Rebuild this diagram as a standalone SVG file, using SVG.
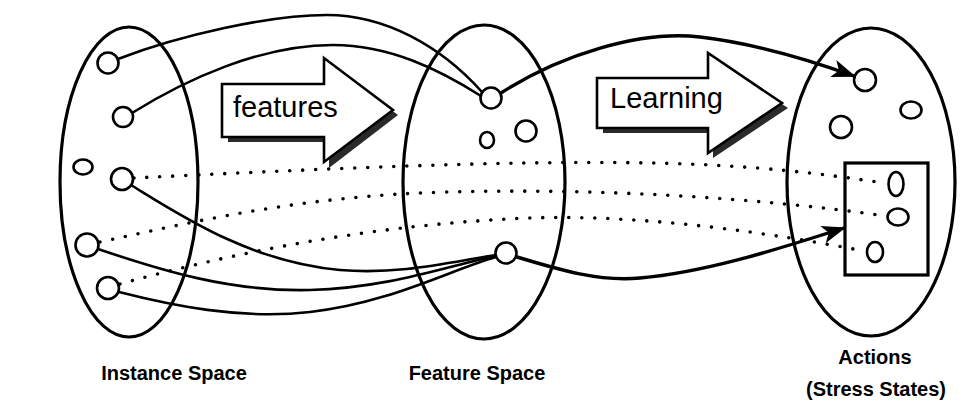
<svg xmlns="http://www.w3.org/2000/svg" width="963" height="409" viewBox="0 0 963 409">
  <style>
    .space { fill: none; stroke: #000; stroke-width: 3.2; }
    .pt { fill: #fff; stroke: #000; stroke-width: 2.6; }
    .link { fill: none; stroke: #000; stroke-width: 2.6; stroke-linecap: round; }
    .link-bold { fill: none; stroke: #000; stroke-width: 3.4; stroke-linecap: round; }
    .dots { fill: none; stroke: #000; stroke-width: 3.6; stroke-linecap: round; stroke-dasharray: 0 13; }
    .block { fill: #fff; stroke: #000; stroke-width: 2.6; stroke-linejoin: miter; }
    .shadow { fill: #2a2a2a; }
    .arrow-text { font-family: "Liberation Sans", Arial, sans-serif; font-size: 29px; fill: #000; }
    .label { font-family: "Liberation Sans", Arial, sans-serif; font-size: 20px; font-weight: bold; fill: #000; text-anchor: middle; }
  </style>
  <defs>
    <marker id="barb" viewBox="0 0 24 18" refX="22" refY="9" markerWidth="24" markerHeight="18" markerUnits="userSpaceOnUse" orient="auto">
      <path d="M0,0 L24,9 L0,18 L6,9 Z" fill="#000"/>
    </marker>
  </defs>

  <!-- connectors between spaces -->
  <g id="connectors">
    <path class="dots" d="M134,178 C300,170 500,160 650,163 C760,165 830,175 884,183"/>
    <path class="dots" d="M100,242 C180,225 300,195 450,192 C600,188 760,198 886,216"/>
    <path class="dots" d="M120,284 C200,262 350,225 530,218 C650,214 780,235 864,251"/>

    <path class="link" d="M118,59 C180,35 270,15 327,15 C384,15 440,45 482,92"/>
    <path class="link" d="M132,113 C185,80 260,45 333,45 C390,45 440,70 481,96"/>
    <path class="link" d="M131,185 C180,215 250,262 340,270 C400,275 450,262 496,255"/>
    <path class="link" d="M98,249 C160,270 230,292 310,290 C390,288 450,265 496,256"/>
    <path class="link" d="M119,292 C170,305 240,320 310,312 C390,303 450,270 496,257"/>

    <path class="link-bold" marker-end="url(#barb)" d="M501,93 C560,55 640,30 700,37 C760,44 815,62 854,76"/>
    <path class="link-bold" marker-end="url(#barb)" d="M517,257 C560,270 600,282 640,278 C710,272 790,245 844,228"/>
  </g>

  <!-- instance space -->
  <g id="instance-space">
    <ellipse class="space" cx="129" cy="182" rx="69" ry="155"/>
    <circle class="pt" cx="108" cy="63" r="10.5"/>
    <circle class="pt" cx="123" cy="117" r="10"/>
    <ellipse class="pt" cx="83" cy="167" rx="9.5" ry="7.5"/>
    <circle class="pt" cx="122" cy="179" r="11"/>
    <circle class="pt" cx="87" cy="245" r="11.5"/>
    <circle class="pt" cx="108" cy="288" r="11"/>
  </g>

  <!-- feature space -->
  <g id="feature-space">
    <ellipse class="space" cx="484" cy="182" rx="81" ry="157"/>
    <circle class="pt" cx="491" cy="98" r="10.5"/>
    <ellipse class="pt" cx="487" cy="140" rx="7" ry="8"/>
    <circle class="pt" cx="526" cy="131" r="10.5"/>
    <circle class="pt" cx="506" cy="253" r="10.5"/>
  </g>

  <!-- actions space -->
  <g id="actions-space">
    <ellipse class="space" cx="871" cy="182" rx="84" ry="154"/>
    <circle class="pt" cx="865" cy="80" r="11"/>
    <ellipse class="pt" cx="911" cy="110" rx="10.5" ry="8.5"/>
    <circle class="pt" cx="841" cy="127" r="11"/>
    <rect x="845" y="163" width="83" height="112" fill="none" stroke="#000" stroke-width="3.2"/>
    <ellipse class="pt" cx="896" cy="184" rx="7.5" ry="12"/>
    <ellipse class="pt" cx="898" cy="217" rx="10.5" ry="8.5"/>
    <ellipse class="pt" cx="875" cy="252" rx="8" ry="10"/>
  </g>

  <!-- "features" block arrow -->
  <g id="features-arrow">
    <polygon class="shadow" points="228,89 329,89 329,63 398,115 329,168 329,142 228,142"/>
    <polygon class="block" points="222,84 324,84 324,58 393,110 324,162 324,137 222,137"/>
    <text class="arrow-text" x="233" y="117">features</text>
  </g>

  <!-- "Learning" block arrow -->
  <g id="learning-arrow">
    <polygon class="shadow" points="603,83 713,83 713,58 788,108 713,158 713,133 603,133"/>
    <polygon class="block" points="597,78 708,78 708,53 782,103 708,153 708,128 597,128"/>
    <text class="arrow-text" x="610" y="108">Learning</text>
  </g>

  <!-- captions -->
  <g id="captions">
    <text class="label" x="174" y="380">Instance Space</text>
    <text class="label" x="477" y="380">Feature Space</text>
    <text class="label" x="875" y="364">Actions</text>
    <text class="label" x="876" y="396">(Stress States)</text>
  </g>
</svg>
